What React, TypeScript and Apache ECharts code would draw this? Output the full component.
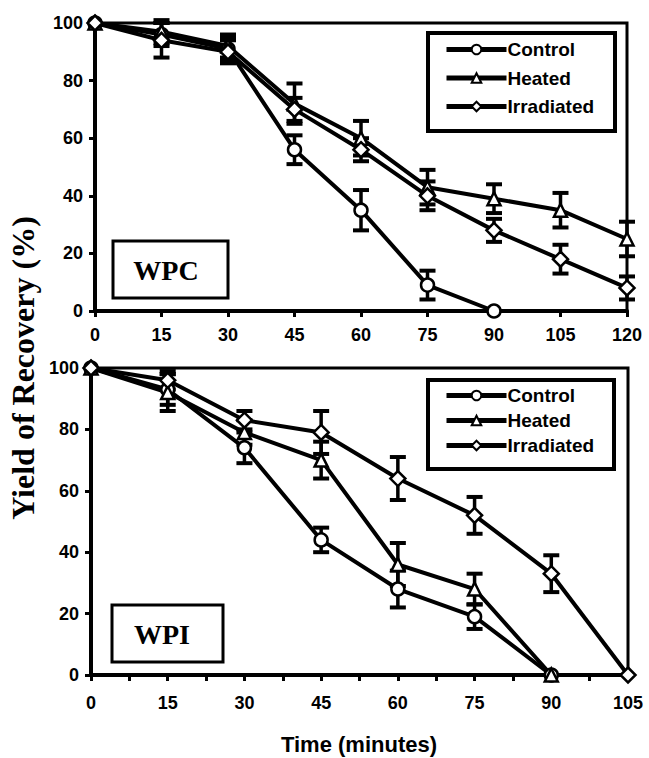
import React, { useEffect, useRef } from "react";
import * as echarts from "echarts";

// ---- Data ----
const wpcTime = [0, 15, 30, 45, 60, 75, 90, 105, 120];
const wpcControl = [100, 96, 91, 56, 35, 9, 0];
const wpcControlErr = [0, 4, 4, 5, 7, 5, 0];
const wpcHeated = [100, 97, 92, 72, 60, 43, 39, 35, 25];
const wpcHeatedErr = [0, 4, 4, 7, 6, 6, 5, 6, 6];
const wpcIrradiated = [100, 94, 90, 70, 56, 40, 28, 18, 8];
const wpcIrradiatedErr = [0, 6, 4, 4, 4, 5, 4, 5, 4];

const wpiTime = [0, 15, 30, 45, 60, 75, 90, 105];
const wpiControl = [100, 93, 74, 44, 28, 19, 0];
const wpiControlErr = [0, 5, 5, 4, 6, 4, 0];
const wpiHeated = [100, 92, 79, 70, 36, 28, 0];
const wpiHeatedErr = [0, 6, 4, 6, 7, 5, 0];
const wpiIrradiated = [100, 96, 83, 79, 64, 52, 33, 0];
const wpiIrradiatedErr = [0, 3, 3, 7, 7, 6, 6, 0];

const seriesNames = ["Control", "Heated", "Irradiated"];
const symbols = ["circle", "triangle", "diamond"];
const yTicks = [0, 20, 40, 60, 80, 100];

const SANS = "'Liberation Sans', Arial, sans-serif";
const SERIF = "'Liberation Serif', 'Times New Roman', serif";

function pairs(xs: number[], ys: number[]) {
  return ys.map((y, i) => [xs[i], y]);
}
function errs(xs: number[], ys: number[], es: number[]) {
  return ys.map((y, i) => [xs[i], y - es[i], y + es[i]]);
}

const renderErr = (params: any, api: any) => {
  const x = api.value(0);
  const lo = api.value(1);
  const hi = api.value(2);
  if (hi - lo <= 0) return null;
  const top = api.coord([x, hi]);
  const bot = api.coord([x, lo]);
  const hw = 8;
  const st = { stroke: "#000", lineWidth: 3.5 };
  return {
    type: "group",
    children: [
      { type: "line", shape: { x1: top[0], y1: top[1], x2: bot[0], y2: bot[1] }, style: st },
      { type: "line", shape: { x1: top[0] - hw, y1: top[1], x2: top[0] + hw, y2: top[1] }, style: { stroke: "#000", lineWidth: 4 } },
      { type: "line", shape: { x1: bot[0] - hw, y1: bot[1], x2: bot[0] + hw, y2: bot[1] }, style: { stroke: "#000", lineWidth: 4 } },
    ],
  };
};

export default function App() {
  const ref = useRef<HTMLDivElement>(null);
  useEffect(() => {
    if (!ref.current) return;
    const chart = echarts.init(ref.current, undefined, { renderer: "svg" });

    const panels = [
      { time: wpcTime, vals: [wpcControl, wpcHeated, wpcIrradiated], errs: [wpcControlErr, wpcHeatedErr, wpcIrradiatedErr] },
      { time: wpiTime, vals: [wpiControl, wpiHeated, wpiIrradiated], errs: [wpiControlErr, wpiHeatedErr, wpiIrradiatedErr] },
    ];

    const series: any[] = [];
    panels.forEach((p, gi) => {
      p.vals.forEach((v, si) => {
        series.push({
          type: "custom",
          name: seriesNames[si] + "-err-" + gi,
          xAxisIndex: gi,
          yAxisIndex: gi,
          renderItem: renderErr,
          encode: { x: 0, y: [1, 2] },
          data: errs(p.time, v, p.errs[si]),
          clip: false,
          z: 2,
        });
      });
    });
    panels.forEach((p, gi) => {
      p.vals.forEach((v, si) => {
        series.push({
          type: "line",
          name: seriesNames[si],
          xAxisIndex: gi,
          yAxisIndex: gi,
          data: pairs(p.time, v),
          symbol: symbols[si],
          symbolSize: si === 2 ? 15 : 13,
          showAllSymbol: true,
          clip: false,
          lineStyle: { color: "#000", width: 4 },
          itemStyle: { color: "#fff", borderColor: "#000", borderWidth: 2.5 },
          z: 3,
        });
      });
    });

    const axisLabel = { color: "#000", fontFamily: SANS, fontWeight: "bold", fontSize: 18 };
    const legendCommon = {
      data: seriesNames, orient: "vertical", left: 444, itemWidth: 60, itemHeight: 12,
      padding: 0, selectedMode: false,
      lineStyle: { color: "#000", width: 5 },
      itemStyle: { color: "#fff", borderColor: "#000", borderWidth: 2 },
      textStyle: { color: "#000", fontFamily: SANS, fontWeight: "bold", fontSize: 19, padding: [0, 0, 0, -4] },
    };

    const option: any = {
      animation: false,
      backgroundColor: "#fff",
      grid: [
        { left: 95, right: 22, top: 23, height: 288, show: true, borderColor: "#000", borderWidth: 3, backgroundColor: "transparent" },
        { left: 91, right: 21, top: 368, height: 307, show: true, borderColor: "#000", borderWidth: 3, backgroundColor: "transparent" },
      ],
      xAxis: [
        {
          type: "value", gridIndex: 0, min: 0, max: 120, interval: 15,
          axisLine: { lineStyle: { color: "#000", width: 4 } },
          axisTick: { show: true, length: 6, lineStyle: { color: "#000", width: 3 } },
          splitLine: { show: false },
          axisLabel: { ...axisLabel, margin: 15 },
        },
        {
          type: "value", gridIndex: 1, min: 0, max: 105, interval: 15,
          axisLine: { lineStyle: { color: "#000", width: 4 } },
          axisTick: { show: true, length: 6, lineStyle: { color: "#000", width: 3 } },
          minorTick: { show: true, splitNumber: 2, length: 6, lineStyle: { color: "#000", width: 3 } },
          splitLine: { show: false },
          axisLabel: { ...axisLabel, margin: 19 },
        },
      ],
      yAxis: [0, 1].map((gi) => ({
        type: "value", gridIndex: gi, min: yTicks[0], max: yTicks[yTicks.length - 1], interval: 20,
        axisLine: { show: true, lineStyle: { color: "#000", width: 4 } },
        axisTick: { show: true, length: 6, lineStyle: { color: "#000", width: 3 } },
        splitLine: { show: false },
        axisLabel: { ...axisLabel, margin: 12 },
      })),
      legend: [
        { ...legendCommon, top: 40, itemGap: 9.5 },
        { ...legendCommon, top: 386, itemGap: 6 },
      ],
      graphic: [
        { type: "rect", shape: { x: 428, y: 33, width: 187, height: 98 }, style: { fill: "none", stroke: "#000", lineWidth: 4 }, z: 1 },
        { type: "rect", shape: { x: 428, y: 380, width: 186, height: 89 }, style: { fill: "none", stroke: "#000", lineWidth: 4 }, z: 1 },
        { type: "rect", shape: { x: 113, y: 241, width: 115, height: 57 }, style: { fill: "#fff", stroke: "#000", lineWidth: 3 }, z: 1 },
        { type: "text", x: 166, y: 270, style: { text: "WPC", fill: "#000", font: `bold 28px ${SERIF}`, textAlign: "center", textVerticalAlign: "middle" }, z: 2 },
        { type: "rect", shape: { x: 112, y: 605, width: 111, height: 57 }, style: { fill: "#fff", stroke: "#000", lineWidth: 3 }, z: 1 },
        { type: "text", x: 162, y: 634, style: { text: "WPI", fill: "#000", font: `bold 28px ${SERIF}`, textAlign: "center", textVerticalAlign: "middle" }, z: 2 },
        { type: "text", x: 23, y: 368, rotation: Math.PI / 2, style: { text: "Yield of Recovery (%)", fill: "#000", font: `bold 32px ${SERIF}`, textAlign: "center", textVerticalAlign: "middle" } },
        { type: "text", x: 359, y: 744, style: { text: "Time (minutes)", fill: "#000", font: `bold 22px ${SANS}`, textAlign: "center", textVerticalAlign: "middle" } },
      ],
      series,
    };
    chart.setOption(option);
    return () => chart.dispose();
  }, []);
  return <div ref={ref} style={{ position: "fixed", left: 0, top: 0, width: 649, height: 758 }} />;
}
